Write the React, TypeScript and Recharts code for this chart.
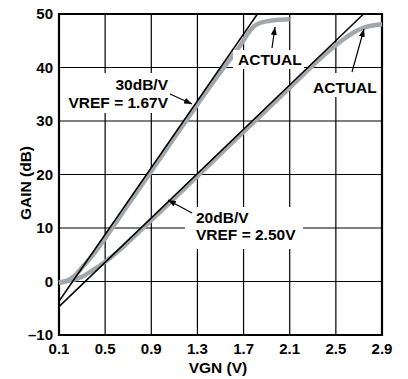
import React from "react";
import {
  LineChart,
  Line,
  XAxis,
  YAxis,
  CartesianGrid,
  ReferenceArea,
} from "recharts";

const VGN_TICKS = [0.1, 0.5, 0.9, 1.3, 1.7, 2.1, 2.5, 2.9];
const GAIN_TICKS = [-10, 0, 10, 20, 30, 40, 50];

// ideal slopes
const IDEAL_30 = [
  { v: 0.1, g: -3.7 },
  { v: 1.82, g: 50 },
];
const IDEAL_20 = [
  { v: 0.1, g: -4.7 },
  { v: 2.74, g: 50 },
];

// measured (gray) curves
const ACTUAL_30 = [
  { v: 0.1, g: -0.2 },
  { v: 0.15, g: 0.0 },
  { v: 0.2, g: 0.5 },
  { v: 0.25, g: 1.4 },
  { v: 0.3, g: 2.6 },
  { v: 0.4, g: 5.1 },
  { v: 0.5, g: 8.1 },
  { v: 0.7, g: 14.4 },
  { v: 0.9, g: 20.6 },
  { v: 1.1, g: 26.9 },
  { v: 1.3, g: 33.1 },
  { v: 1.45, g: 37.7 },
  { v: 1.55, g: 40.6 },
  { v: 1.62, g: 42.6 },
  { v: 1.68, g: 44.4 },
  { v: 1.74, g: 46.4 },
  { v: 1.79, g: 47.7 },
  { v: 1.85, g: 48.4 },
  { v: 1.95, g: 48.8 },
  { v: 2.1, g: 49.0 },
];
const ACTUAL_20 = [
  { v: 0.1, g: -0.2 },
  { v: 0.2, g: 0.2 },
  { v: 0.3, g: 0.9 },
  { v: 0.4, g: 2.2 },
  { v: 0.5, g: 3.7 },
  { v: 0.6, g: 5.4 },
  { v: 0.8, g: 9.4 },
  { v: 1.0, g: 13.5 },
  { v: 1.3, g: 19.7 },
  { v: 1.6, g: 25.9 },
  { v: 1.9, g: 32.1 },
  { v: 2.2, g: 38.3 },
  { v: 2.35, g: 41.4 },
  { v: 2.45, g: 43.3 },
  { v: 2.55, g: 45.0 },
  { v: 2.65, g: 46.5 },
  { v: 2.75, g: 47.5 },
  { v: 2.83, g: 47.9 },
  { v: 2.9, g: 48.1 },
];

const FONT = '"Liberation Sans", Arial, Helvetica, sans-serif';
const GRAY = "#a2a7ac";

const tickStyle = { fill: "#000", fontSize: 15, fontWeight: 700, fontFamily: FONT };

const Arrow = ({ x1, y1, x2, y2 }: { x1: number; y1: number; x2: number; y2: number }) => (
  <line x1={x1} y1={y1} x2={x2} y2={y2} stroke="#000" strokeWidth={1.2} markerEnd="url(#head)" />
);

export default function App() {
  const txt = { fontFamily: FONT, fontWeight: 700, fontSize: 15.5, fill: "#000" };
  return (
    <div style={{ position: "absolute", left: 0, top: 0, width: 408, height: 379, background: "#fff" }}>
      <LineChart width={408} height={379} margin={{ top: 14, right: 26, bottom: 0, left: 0 }}>
        <CartesianGrid stroke="#000" strokeWidth={1.2} />
        <XAxis
          dataKey="v"
          type="number"
          domain={[0.1, 2.9]}
          ticks={VGN_TICKS}
          interval={0}
          height={44}
          axisLine={false}
          tickLine={false}
          tick={tickStyle}
          tickFormatter={(v: number) => v.toFixed(1)}
        />
        <YAxis
          type="number"
          domain={[-10, 50]}
          ticks={GAIN_TICKS}
          interval={0}
          width={59}
          axisLine={false}
          tickLine={false}
          tickMargin={0}
          tick={tickStyle}
          tickFormatter={(v: number) => (v < 0 ? "\u2013" + Math.abs(v) : String(v))}
        />
        <Line data={ACTUAL_30} dataKey="g" type="monotone" stroke={GRAY} strokeWidth={4.5} dot={false} activeDot={false} isAnimationActive={false} />
        <Line data={ACTUAL_20} dataKey="g" type="monotone" stroke={GRAY} strokeWidth={4.5} dot={false} activeDot={false} isAnimationActive={false} />
        <Line data={IDEAL_30} dataKey="g" type="linear" stroke="#000" strokeWidth={1.5} dot={false} activeDot={false} isAnimationActive={false} />
        <Line data={IDEAL_20} dataKey="g" type="linear" stroke="#000" strokeWidth={1.5} dot={false} activeDot={false} isAnimationActive={false} />
        <ReferenceArea x1={0.1} x2={2.9} y1={-10} y2={50} fill="none" stroke="#000" strokeWidth={2.2} />
      </LineChart>

      <svg width={408} height={379} style={{ position: "absolute", left: 0, top: 0, pointerEvents: "none" }}>
        <defs>
          <marker id="head" markerWidth={8} markerHeight={6} refX={8} refY={3} orient="auto" markerUnits="userSpaceOnUse">
            <path d="M0,0 L8,3 L0,6 Z" fill="#000" />
          </marker>
        </defs>

        <rect x={64} y={73} width={108} height={40} fill="#fff" />
        <text x={168} y={90} textAnchor="end" style={txt}>30dB/V</text>
        <text x={168} y={108} textAnchor="end" style={txt}>VREF = 1.67V</text>
        <Arrow x1={170} y1={94} x2={192} y2={104} />

        <rect x={233} y={50} width={71} height={19} fill="#fff" />
        <text x={238} y={65} style={txt}>ACTUAL</text>
        <Arrow x1={272} y1={48} x2={275} y2={27} />

        <rect x={309} y={73} width={71} height={24} fill="#fff" />
        <text x={313} y={93} style={txt}>ACTUAL</text>
        <Arrow x1={352} y1={72} x2={364} y2={29} />

        <rect x={185} y={207} width={118} height={42} fill="#fff" />
        <text x={196} y={223} style={txt}>20dB/V</text>
        <text x={196} y={240} style={txt}>VREF = 2.50V</text>
        <Arrow x1={192} y1={213} x2={168} y2={200} />

        <text x={31} y={183} textAnchor="middle" transform="rotate(-90 31 183)" style={txt}>GAIN (dB)</text>
        <text x={218} y={373} textAnchor="middle" style={txt}>VGN (V)</text>
      </svg>
    </div>
  );
}
